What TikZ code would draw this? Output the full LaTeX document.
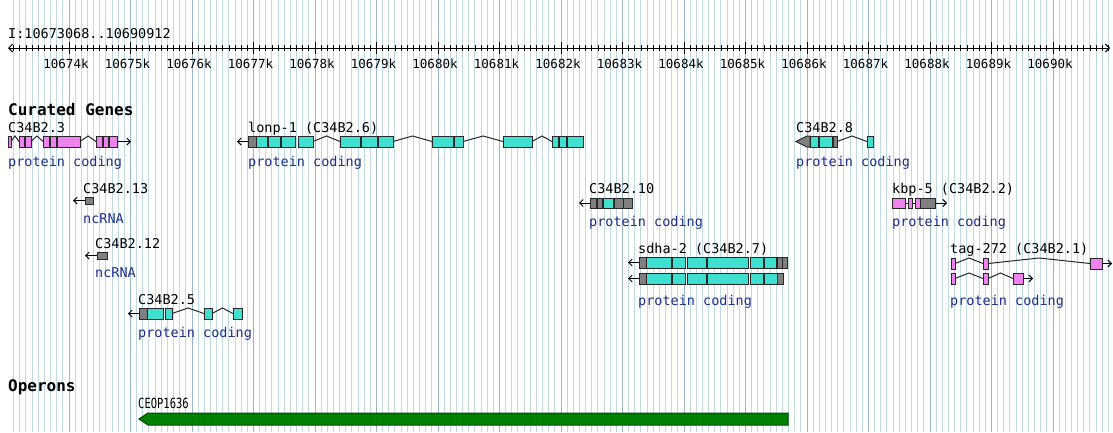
\documentclass[tikz,border=0pt]{standalone}
\usepackage{fontspec}
\usepackage{graphicx}
\newfontfamily\gbfont{DejaVu Sans Mono}
\usetikzlibrary{arrows.meta}
\definecolor{gbteal}{RGB}{64,224,208}
\definecolor{gbviolet}{RGB}{238,130,238}
\definecolor{gbgray}{RGB}{128,128,128}
\definecolor{gbedge}{RGB}{40,40,40}
\definecolor{gbdesc}{RGB}{30,45,140}
\definecolor{gbminor}{RGB}{192,218,228}
\definecolor{gbmajor}{RGB}{152,182,200}
\definecolor{gbgreen}{RGB}{0,128,0}
\definecolor{gbgreenedge}{RGB}{0,70,0}
% current glyph row: top, bottom, middle
\newcommand\gbrow[2]{\def\gbyt{#1}\def\gbyb{#2}\pgfmathsetmacro\gbym{(#1+#2)/2}}
% exon box, intron hat, plain connecting line, strand arrow
\newcommand\gbx[3]{\filldraw[exbox,fill=#3] (#1,\gbyt) rectangle (#2,\gbyb);}
\newcommand\gbi[2]{\draw[intr] (#1,\gbym) -- ({(#1+#2)/2},\gbyt) -- (#2,\gbym);}
\newcommand\gbl[2]{\draw[intr] (#1,\gbym) -- (#2,\gbym);}
\newcommand\gbs[2]{\draw[strand] (#1,\gbym) -- (#2,\gbym);}
\tikzset{
  exbox/.style={draw=gbedge,line width=1pt},
  intr/.style={draw=gbedge,line width=1pt},
  strand/.style={draw=black,line width=1pt,-{Straight Barb[length=3.5pt,width=7pt]}},
  lab/.style={anchor=base west,inner sep=0pt,font=\gbfont\fontsize{13.5}{14}\selectfont},
  desc/.style={lab,text=gbdesc},
  title/.style={anchor=base west,inner sep=0pt,font=\gbfont\bfseries\fontsize{16}{18}\selectfont},
  ticklab/.style={anchor=base,inner sep=0pt,font=\gbfont\fontsize{12.5}{13}\selectfont},
}
\begin{document}
\begin{tikzpicture}[x=1pt,y=-1pt]
\useasboundingbox (0,0) rectangle (1113,432);
\fill[white] (0,0) rectangle (1113,432);
% background grid: every 100 bp, darker every kb
\foreach \i in {-9,...,169}
  \draw[gbminor,line width=1pt] ({69+\i*6.15},0) -- ({69+\i*6.15},432);
\foreach \k in {0,...,16}
  \draw[gbmajor,line width=1pt] ({69+\k*61.5},0) -- ({69+\k*61.5},432);

% ruler
\node[lab] (range) at (8,38) {I:10673068..10690912};
\coordinate (rl) at (8,48);
\coordinate (rr) at (1110,48);
\draw[line width=1pt,{Straight Barb[length=4pt,width=8pt]}-{Straight Barb[length=4pt,width=8pt]}] (rl) -- (rr);
\foreach \i in {-9,...,169}
  \draw[line width=0.8pt] ({69+\i*6.15},45) -- ({69+\i*6.15},51);
\foreach \k in {0,...,16}{
  \draw[line width=1pt] ({69+\k*61.5},42) -- ({69+\k*61.5},54);
  \pgfmathtruncatemacro\kk{10674+\k}
  \node[ticklab] (tick\k) at ({66+\k*61.5},68) {\kk k};
}

% track titles
\node[title] (tgenes) at (8,115) {Curated Genes};
\node[title] (toperons) at (8,391) {Operons};

% ---- row 1 ----
\gbrow{136}{147}
% C34B2.3
\node[lab] (n3) at (8,132) {C34B2.3};
\gbx{8}{11}{gbviolet}
\gbi{11}{19}
\gbx{19}{24}{gbviolet}\gbx{25}{31}{gbviolet}
\gbi{31}{43}
\gbx{43}{49}{gbviolet}\gbx{50}{56}{gbviolet}\gbx{57}{80}{gbviolet}
\gbi{80}{96}
\gbx{96}{102}{gbviolet}\gbx{103}{108}{gbviolet}\gbx{109}{117}{gbviolet}
\gbs{117}{131}
\node[desc] (d3) at (8,166) {protein coding};
% lonp-1
\node[lab] (n6) at (248,132) {lonp-1 (C34B2.6)};
\gbs{248}{237}
\gbx{248}{256}{gbgray}\gbx{256}{267}{gbteal}\gbx{268}{280}{gbteal}
\gbx{281}{295}{gbteal}\gbx{298}{313}{gbteal}
\gbi{313}{340}
\gbx{340}{360}{gbteal}\gbx{361}{377}{gbteal}\gbx{378}{393}{gbteal}
\gbi{393}{432}
\gbx{432}{453}{gbteal}\gbx{454}{463}{gbteal}
\gbi{463}{503}
\gbx{503}{532}{gbteal}
\gbi{532}{552}
\gbx{552}{558}{gbteal}\gbx{559}{566}{gbteal}\gbx{567}{583}{gbteal}
\node[desc] (d6) at (248,166) {protein coding};
% C34B2.8
\node[lab] (n8) at (796,132) {C34B2.8};
\filldraw[exbox,fill=gbgray] (796,\gbym) -- (807,\gbyt) -- (810,\gbyt) -- (810,\gbyb) -- (807,\gbyb) -- cycle;
\gbx{810}{818}{gbteal}\gbx{819}{832}{gbteal}\gbx{833}{837}{gbgray}
\gbi{837}{867}
\gbx{867}{873}{gbteal}
\node[desc] (d8) at (796,166) {protein coding};

% ---- row 2 ----
\gbrow{197}{204}
% C34B2.13
\node[lab] (n13) at (83,193) {C34B2.13};
\gbs{85}{73}
\gbx{85}{93}{gbgray}
\node[desc] (d13) at (83,223) {ncRNA};
\gbrow{198}{208}
% C34B2.10
\node[lab] (n10) at (589,193) {C34B2.10};
\gbs{590}{579}
\gbx{590}{596}{gbgray}\gbx{597}{602}{gbgray}\gbx{603}{613}{gbteal}
\gbx{614}{623}{gbgray}\gbx{623}{632}{gbgray}
\node[desc] (d10) at (589,226) {protein coding};
% kbp-5
\node[lab] (n2) at (892,193) {kbp-5 (C34B2.2)};
\gbx{892}{905}{gbviolet}
\gbl{905}{908}
\gbx{908}{912}{gbviolet}
\gbl{912}{915}
\gbx{915}{920}{gbviolet}\gbx{920}{935}{gbgray}
\gbs{935}{947}
\node[desc] (d2) at (892,226) {protein coding};

% ---- row 3 ----
\gbrow{252}{259}
% C34B2.12
\node[lab] (n12) at (95,248) {C34B2.12};
\gbs{97}{85}
\gbx{97}{107}{gbgray}
\node[desc] (d12) at (95,277) {ncRNA};
% sdha-2, two isoforms
\node[lab] (n7) at (638,253) {sdha-2 (C34B2.7)};
\gbrow{257}{268}
\gbs{639}{628}
\gbx{639}{646}{gbgray}\gbx{646}{671}{gbteal}\gbx{672}{685}{gbteal}
\gbx{687}{706}{gbteal}\gbx{707}{748}{gbteal}\gbx{750}{763}{gbteal}
\gbx{764}{776}{gbteal}\gbx{777}{782}{gbgray}\gbx{782}{787}{gbgray}
\gbrow{273}{284}
\gbs{639}{628}
\gbx{639}{646}{gbgray}\gbx{646}{671}{gbteal}\gbx{672}{685}{gbteal}
\gbx{687}{706}{gbteal}\gbx{707}{748}{gbteal}\gbx{750}{763}{gbteal}
\gbx{764}{777}{gbteal}\gbx{777}{783}{gbgray}
\node[desc] (d7) at (638,305) {protein coding};
% tag-272, two isoforms
\node[lab] (n1) at (950,253) {tag-272 (C34B2.1)};
\gbrow{258}{269}
\gbx{951}{955}{gbviolet}
\gbi{955}{983}
\gbx{983}{988}{gbviolet}
\gbi{988}{1090}
\gbx{1090}{1102}{gbviolet}
\gbs{1102}{1112}
\gbrow{273}{284}
\gbx{951}{955}{gbviolet}
\gbi{955}{983}
\gbx{983}{988}{gbviolet}
\gbi{988}{1013}
\gbx{1013}{1023}{gbviolet}
\gbs{1023}{1033}
\node[desc] (d1) at (950,305) {protein coding};

% ---- row 4 ----
\gbrow{308}{319}
% C34B2.5
\node[lab] (n5) at (138,304) {C34B2.5};
\gbs{139}{128}
\gbx{139}{147}{gbgray}\gbx{147}{163}{gbteal}\gbx{165}{172}{gbteal}
\gbi{172}{204}
\gbx{204}{212}{gbteal}
\gbi{212}{233}
\gbx{233}{242}{gbteal}
\node[desc] (d5) at (138,337) {protein coding};

% operon track
\node[anchor=base west,inner sep=0pt,font=\gbfont\fontsize{14}{15}\selectfont] (op) at (138,408) {\scalebox{0.75}[1]{CEOP1636}};
\filldraw[fill=gbgreen,draw=gbgreenedge,line width=1pt]
  (139,419) -- (148,413) -- (788,413) -- (788,425) -- (148,425) -- cycle;
\end{tikzpicture}
\end{document}
